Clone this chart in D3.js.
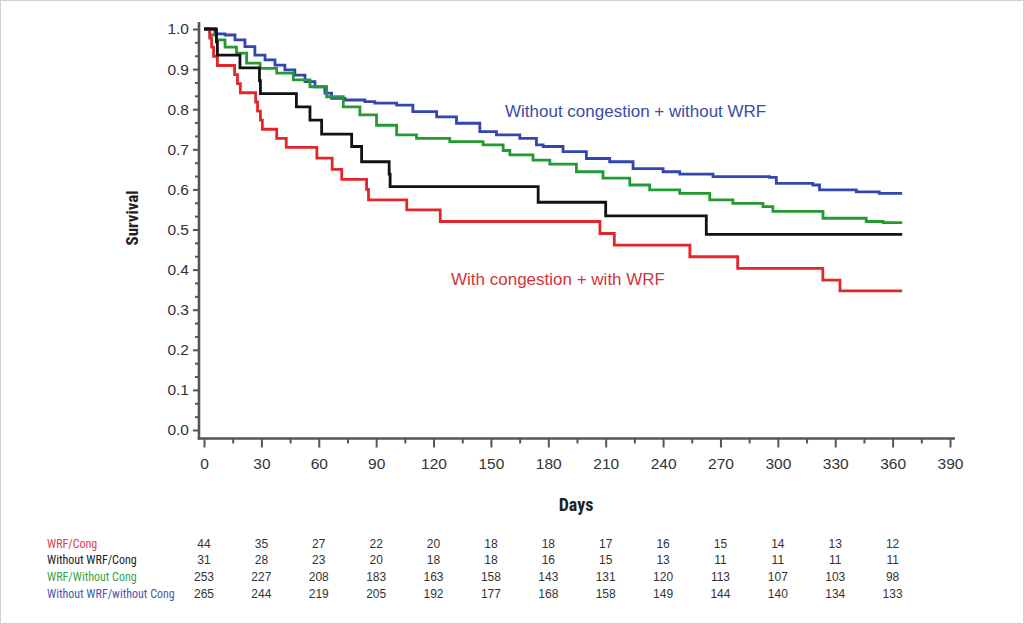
<!DOCTYPE html>
<html><head><meta charset="utf-8">
<script src="https://cdn.jsdelivr.net/npm/d3@7"></script>
<style>
html,body{margin:0;padding:0;background:#fff;}
svg{display:block;}
</style></head>
<body>
<svg id="chart" width="1024" height="624"></svg>
<script>
// ---- data ----
const seriesNames = ["WRF/Cong", "Without WRF/Cong", "WRF/Without Cong", "Without WRF/without Cong"];
const riskDays = [0,30,60,90,120,150,180,210,240,270,300,330,360];
const riskWRFCong = [44,35,27,22,20,18,18,17,16,15,14,13,12];
const riskNoWRFCong = [31,28,23,20,18,18,16,15,13,11,11,11,11];
const riskWRFNoCong = [253,227,208,183,163,158,143,131,120,113,107,103,98];
const riskNoWRFNoCong = [265,244,219,205,192,177,168,158,149,144,140,134,133];
const xTicks = [0,30,60,90,120,150,180,210,240,270,300,330,360,390];
const yTicks = [0,0.1,0.2,0.3,0.4,0.5,0.6,0.7,0.8,0.9,1.0];

// Kaplan-Meier step points: [day, survival]
const kmWRFCong = [[0,1],[3,0.977],[4,0.955],[5,0.932],[7,0.909],[16,0.886],[17.5,0.864],[19,0.841],
  [27,0.818],[28,0.795],[29.5,0.773],[30.5,0.75],[38,0.727],[43,0.705],[59,0.678],[67,0.65],[72,0.625],
  [85,0.6],[86,0.574],[106,0.549],[123.5,0.52],[207,0.49],[214.5,0.461],[254,0.432],[279,0.403],
  [323.5,0.374],[332.5,0.347],[365,0.347]];
const kmNoWRFCong = [[0,1],[6.5,0.968],[7,0.935],[18.8,0.903],[29,0.871],[29.5,0.839],[48.3,0.806],
  [55.4,0.773],[61.5,0.738],[77.2,0.707],[82.4,0.669],[96.8,0.638],[97.3,0.607],[174.7,0.568],
  [210,0.534],[262.6,0.488],[365,0.488]];
const kmWRFNoCong = [[0,1],[3,0.985],[6.6,0.973],[11,0.955],[17,0.94],[22.3,0.915],[29.3,0.902],[38,0.89],
  [46.7,0.873],[55.4,0.856],[64.1,0.831],[72.8,0.806],[81.5,0.786],[90.2,0.76],[100.7,0.736],[111.1,0.727],
  [128.5,0.719],[145.9,0.711],[156.4,0.697],[159.9,0.686],[172,0.673],[180.8,0.663],[194.7,0.644],
  [208.6,0.628],[222.6,0.611],[233,0.599],[248.7,0.59],[264.4,0.574],[276.5,0.565],[292.2,0.557],
  [297.4,0.545],[323.6,0.528],[346.2,0.52],[355,0.517],[365,0.517]];
const kmNoWRFNoCong = [[0,1],[5.7,0.988],[11,0.985],[16.2,0.973],[21.4,0.956],[26.6,0.935],[31.9,0.923],
  [37.1,0.91],[42.3,0.898],[47.5,0.885],[52.8,0.869],[58,0.856],[63.2,0.84],[66.7,0.827],[73.7,0.823],
  [84.1,0.819],[89.3,0.815],[100.7,0.81],[109.2,0.794],[121.6,0.781],[132,0.765],[144.2,0.744],
  [152.9,0.736],[165.1,0.727],[173.8,0.711],[177.3,0.707],[187.7,0.694],[199.9,0.677],[212.1,0.669],
  [224.3,0.652],[240,0.644],[248.7,0.638],[266.1,0.632],[295.7,0.63],[299.2,0.615],[318.3,0.611],
  [321.8,0.599],[341,0.594],[353,0.59],[365,0.59]];

const colors = ["#e3262b", "#111111", "#249a32", "#3346b0"];
const labelColors = ["#d9434a", "#222222", "#3b9f47", "#4b56b2"];

// ---- drawing ----
const svg = d3.select("#chart");
svg.append("rect").attr("x",0.5).attr("y",0.5).attr("width",1023).attr("height",623)
  .attr("fill","#fff").attr("stroke","#d0d0d0");

const x = d3.scaleLinear().domain([0,390]).range([204,950]);
const y = d3.scaleLinear().domain([0,1]).range([430,29]);
const axisColor = "#555";
const font = "'Liberation Sans', Arial, sans-serif";
const narrow = "'Liberation Sans Narrow', 'Roboto Condensed', Roboto, 'Liberation Sans', Arial, sans-serif";

// Y axis
const yMinor = d3.range(0, 31).map(i => i/30).filter(v => Math.abs(v*10 - Math.round(v*10)) > 1e-6);
const gy = svg.append("g").attr("transform","translate(199,0)");
gy.call(d3.axisLeft(y).tickValues(yMinor).tickSize(4).tickFormat(""));
gy.call(g => g.selectAll(".tick line").attr("stroke",axisColor).attr("stroke-width",2));
gy.call(g => g.select(".domain").remove());
const gy2 = svg.append("g").attr("transform","translate(199,0)");
gy2.call(d3.axisLeft(y).tickValues(yTicks).tickSize(6).tickPadding(4).tickFormat(d3.format(".1f")));
gy2.select(".domain").remove();
gy2.selectAll(".tick line").attr("stroke",axisColor).attr("stroke-width",2);
gy2.selectAll(".tick text").attr("fill","#333").style("font-family",font).style("font-size","15.5px");
svg.append("line").attr("x1",199).attr("x2",199).attr("y1",22).attr("y2",439.5)
  .attr("stroke",axisColor).attr("stroke-width",2.6);

// X axis
const xMinor = d3.range(15, 390, 30);
const gx = svg.append("g").attr("transform","translate(0,438.5)");
gx.call(d3.axisBottom(x).tickValues(xMinor).tickSize(5).tickFormat(""));
gx.select(".domain").remove();
gx.selectAll(".tick line").attr("stroke",axisColor).attr("stroke-width",2);
const gx2 = svg.append("g").attr("transform","translate(0,438.5)");
gx2.call(d3.axisBottom(x).tickValues(xTicks).tickSize(9).tickPadding(10).tickFormat(d3.format("d")));
gx2.select(".domain").remove();
gx2.selectAll(".tick line").attr("stroke",axisColor).attr("stroke-width",2);
gx2.selectAll(".tick text").attr("fill","#333").style("font-family",font).style("font-size","15.5px");
svg.append("line").attr("x1",197.7).attr("x2",955).attr("y1",438.5).attr("y2",438.5)
  .attr("stroke",axisColor).attr("stroke-width",2.6);

// Axis titles
svg.append("text").attr("transform","translate(138,218) rotate(-90)").attr("text-anchor","middle")
  .style("font-family",narrow).style("font-weight","bold").style("font-size","17px").attr("fill","#222")
  .text("Survival");
svg.append("text").attr("x",576).attr("y",511).attr("text-anchor","middle")
  .style("font-family",narrow).style("font-weight","bold").style("font-size","18px").attr("fill","#222")
  .text("Days");

// Curves
const line = d3.line().x(d => x(d[0])).y(d => y(d[1])).curve(d3.curveStepAfter);
const km = [kmWRFCong, kmNoWRFCong, kmWRFNoCong, kmNoWRFNoCong];
const drawOrder = [3, 2, 0, 1];
drawOrder.forEach(i => {
  svg.append("path").datum(km[i]).attr("d", line).attr("fill","none")
    .attr("stroke", colors[i]).attr("stroke-width", 2.8).attr("stroke-linejoin","miter");
});

// Curve annotations
svg.append("text").attr("x",505).attr("y",117).style("font-family",font).style("font-size","17px")
  .attr("fill","#3a4ca8").text("Without congestion + without WRF");
svg.append("text").attr("x",451).attr("y",285).style("font-family",font).style("font-size","17px")
  .attr("fill","#d3343b").text("With congestion + with WRF");

// Number-at-risk table
const risks = [riskWRFCong, riskNoWRFCong, riskWRFNoCong, riskNoWRFNoCong];
const rowY = [547.5, 564, 581, 597.5];
seriesNames.forEach((name, i) => {
  svg.append("text").attr("x",47).attr("y",rowY[i]).style("font-family",narrow).style("font-size","12px")
    .attr("fill",labelColors[i]).text(name);
  svg.append("g").selectAll("text").data(risks[i]).join("text")
    .attr("x",(d,j) => x(riskDays[j])).attr("y",rowY[i]).attr("text-anchor","middle")
    .style("font-family",font).style("font-size","12px").attr("fill","#333").text(d => d);
});
</script>
</body></html>
